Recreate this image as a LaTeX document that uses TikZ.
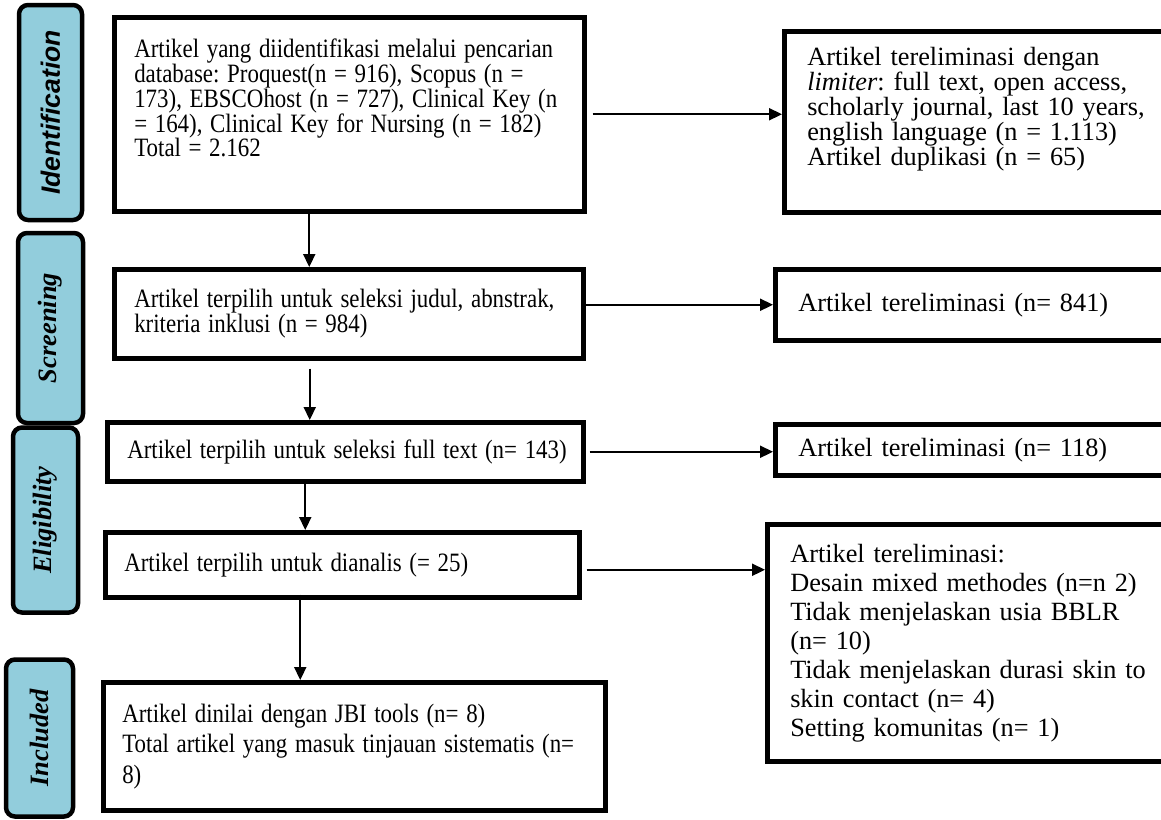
\documentclass[tikz,border=0pt]{standalone}
\usepackage{fontspec}
\setmainfont{Liberation Serif}
\newfontfamily\stagesans{Liberation Sans}
\usepackage{graphicx}
\usepackage{xcolor}
\usetikzlibrary{arrows.meta,positioning}
\definecolor{stageblue}{RGB}{146,205,220}
\frenchspacing
\hbadness=10000 \hfuzz=200pt
% narrow text block for the main column
\newcommand{\narrowtext}[1]{\scalebox{0.865}[1]{\parbox{600pt}{#1}}}

\begin{document}
\begin{tikzpicture}[x=1pt, y=-1pt, >={Triangle[length=13pt,width=12pt]},
 box/.style={draw,line width=4.5pt,anchor=north west,align=left,inner xsep=19pt,inner ysep=0pt,font=\fontsize{26.5}{24.7}\selectfont},
 ex/.style={box,inner xsep=23pt,font=\fontsize{26.3}{25}\selectfont},
 stage/.style={draw,line width=4.5pt,rounded corners=9pt,fill=stageblue,rotate=90,inner sep=0pt,font=\fontsize{26.5}{26.5}\selectfont\bfseries\itshape},
 flow/.style={->,line width=2.2pt}]
\path[use as bounding box] (0,0) rectangle (1161,819);
\clip (0,0) rectangle (1161,819);
% stage labels
\node[stage,minimum width=215pt,minimum height=63pt] (sIdent) at (50.5,112.5) {\stagesans Identification};
\node[stage,minimum width=190pt,minimum height=65pt] (sScreen) at (50.5,328) {Screening};
\node[stage,minimum width=185pt,minimum height=65pt] (sElig) at (45.5,520) {Eligibility};
\node[stage,minimum width=157pt,minimum height=67pt] (sIncl) at (39.5,738) {Included};
% main column
\node[box,inner xsep=20pt,text width=430pt,minimum height=194pt] (ident) at (112,15) {\scalebox{0.865}[1]{\parbox[c][150pt][t]{600pt}{Artikel yang diidentifikasi melalui pencarian\\database: Proquest(n = 916), Scopus (n =\\173), EBSCOhost (n = 727), Clinical Key (n\\= 164), Clinical Key for Nursing (n = 182)\\Total = 2.162}}};
\node[box,inner xsep=20pt,text width=429pt,minimum height=89pt] (screen) at (112,267) {\narrowtext{Artikel terpilih untuk seleksi judul, abnstrak,\\kriteria inklusi (n = 984)}};
\node[box,inner xsep=20pt,text width=436pt,minimum height=59pt] (elig) at (105,420) {\narrowtext{Artikel terpilih untuk seleksi full text (n= 143)}};
\node[box,text width=436pt,minimum height=65pt] (anal) at (103,530) {\narrowtext{Artikel terpilih untuk dianalis (= 25)}};
\node[box,text width=464pt,minimum height=128pt,font=\fontsize{26.5}{30.5}\selectfont] (incl) at (101,680) {\narrowtext{Artikel dinilai dengan JBI tools (n= 8)\\Total artikel yang masuk tinjauan sistematis (n=\\8)}};
% excluded column
\node[ex,text width=347pt,minimum height=181pt] (elim1) at (782,29) {\parbox[c][149pt][t]{347pt}{Artikel tereliminasi dengan\\\textit{limiter}: full text, open access,\\scholarly journal, last 10 years,\\english language (n = 1.113)\\Artikel duplikasi (n = 65)}};
\node[ex,text width=356pt,minimum height=71pt] (elim2) at (773,267) {Artikel tereliminasi (n= 841)};
\node[ex,text width=356pt,minimum height=51pt] (elim3) at (773,422) {Artikel tereliminasi (n= 118)};
\node[ex,text width=364pt,minimum height=237pt,font=\fontsize{26.3}{29}\selectfont] (elim4) at (765,522) {Artikel tereliminasi:\\Desain mixed methodes (n=n 2)\\Tidak menjelaskan usia BBLR\\(n= 10)\\Tidak menjelaskan durasi skin to\\skin contact (n= 4)\\Setting komunitas (n= 1)};
% arrows down
\draw[flow] ([xshift=-40pt]ident.south) -- ([xshift=-40pt]ident.south |- screen.north);
\draw[flow] ([xshift=-39pt,yshift=-8pt]screen.south) -- ([xshift=-39pt]screen.south |- elig.north);
\draw[flow] ([xshift=-40pt]elig.south) -- ([xshift=-40pt]elig.south |- anal.north);
\draw[flow] ([xshift=-42pt,yshift=5pt]anal.south) -- ([xshift=-42pt]anal.south |- incl.north);
% arrows right
\draw[flow] ([xshift=6pt]ident.east) -- (ident.east -| elim1.west);
\draw[flow] (screen.east |- elim2.west) -- (elim2.west);
\draw[flow] ([xshift=4pt]elig.east) -- (elig.east -| elim3.west);
\draw[flow] ([xshift=5pt,yshift=-5pt]anal.east) -- ([yshift=-5pt]anal.east -| elim4.west);
\end{tikzpicture}
\end{document}
